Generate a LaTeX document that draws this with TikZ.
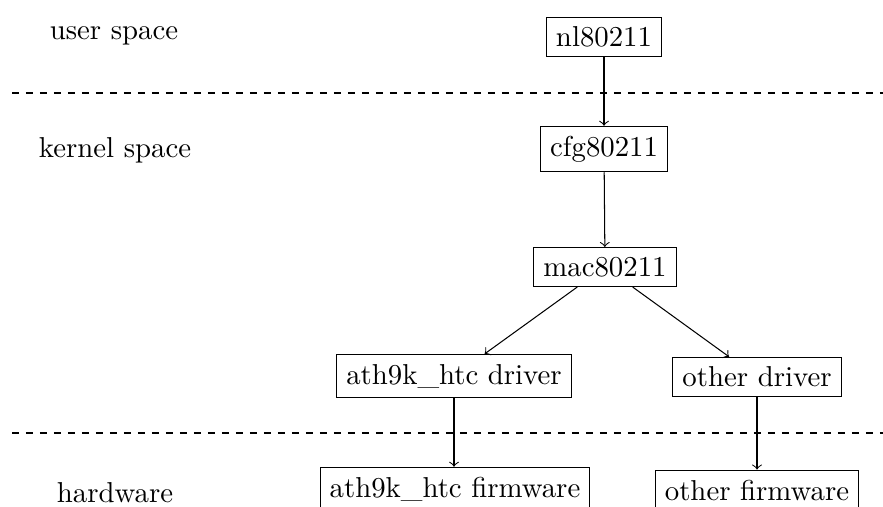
\documentclass[tikz,border=0pt]{standalone}
\begin{document}
\begin{tikzpicture}[x=0.3472pt,y=-0.3472pt,
  line width=0.36pt,
  box/.style={draw},
  lbl/.style={},
  sep/.style={dash pattern=on 2.43pt off 2.43pt},
  conn/.style={->}]
\useasboundingbox (0,0) rectangle (883,506);
\node[lbl] (us) at (114,36) {user space};
\node[lbl] (ks) at (115,150) {kernel space};
\node[lbl] (hw) at (115,493) {hardware};
\node[box] (nl) at (604,37) {nl80211};
\node[box] (cfg) at (604,149) {cfg80211};
\node[box] (mac) at (605,267) {mac80211};
\node[box] (athd) at (454,376) {ath9k\_htc driver};
\node[box] (othd) at (757,377) {other driver};
\node[box] (athf) at (455,489) {ath9k\_htc firmware};
\node[box] (othf) at (757,490) {other firmware};
\coordinate (l1a) at (12,93);
\coordinate (l1b) at (883,93);
\coordinate (l2a) at (12,433);
\coordinate (l2b) at (883,433);
\draw[sep] (l1a) -- (l1b);
\draw[sep] (l2a) -- (l2b);
\draw[conn] (nl) -- (cfg);
\draw[conn] (cfg) -- (mac);
\draw[conn] (mac) -- (athd);
\draw[conn] (mac) -- (othd);
\draw[conn] (athd) -- (athd |- athf.north);
\draw[conn] (othd) -- (othd |- othf.north);
\end{tikzpicture}
\end{document}
